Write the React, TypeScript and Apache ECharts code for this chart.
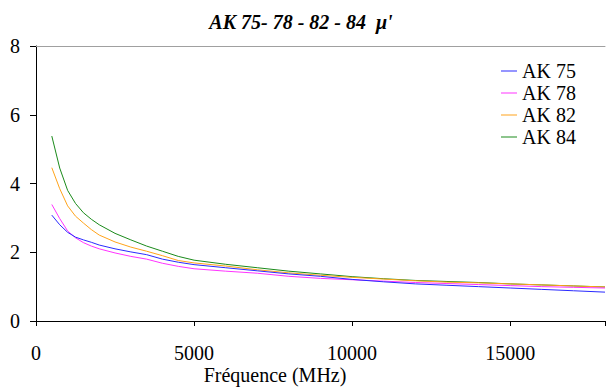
import React, { useEffect, useRef } from "react";
import * as echarts from "echarts";

const freqs = [500, 750, 1000, 1250, 1500, 1750, 2000, 2500, 3000, 3500, 4000, 4500, 5000, 6000, 7000, 8000, 9000, 10000, 11000, 12000, 13000, 14000, 15000, 16000, 17000, 18000];
const ak75 = [3.08, 2.8, 2.58, 2.44, 2.36, 2.29, 2.21, 2.1, 2.01, 1.93, 1.8, 1.71, 1.64, 1.55, 1.46, 1.37, 1.3, 1.21, 1.14, 1.08, 1.04, 1.0, 0.96, 0.92, 0.88, 0.84];
const ak78 = [3.39, 2.98, 2.62, 2.42, 2.28, 2.18, 2.1, 1.98, 1.88, 1.8, 1.68, 1.59, 1.52, 1.45, 1.39, 1.3, 1.24, 1.2, 1.16, 1.12, 1.09, 1.06, 1.03, 1.0, 0.98, 0.96];
const ak82 = [4.46, 3.85, 3.35, 3.05, 2.85, 2.66, 2.5, 2.3, 2.15, 2.03, 1.9, 1.76, 1.69, 1.6, 1.49, 1.4, 1.33, 1.27, 1.22, 1.17, 1.13, 1.11, 1.08, 1.05, 1.02, 0.99];
const ak84 = [5.38, 4.45, 3.8, 3.42, 3.15, 2.96, 2.8, 2.55, 2.36, 2.18, 2.03, 1.88, 1.77, 1.65, 1.55, 1.45, 1.37, 1.29, 1.23, 1.18, 1.15, 1.12, 1.08, 1.05, 1.02, 0.99];

const seriesNames = ["AK 75", "AK 78", "AK 82", "AK 84"];
const seriesValues = [ak75, ak78, ak82, ak84];
const colors = ["#2a2aff", "#ff33ff", "#ffa31a", "#1a8a1a"];

const FONT = "Liberation Serif";

export default function App() {
  const ref = useRef<HTMLDivElement>(null);
  useEffect(() => {
    if (!ref.current) return;
    const chart = echarts.init(ref.current, null, { renderer: "svg" });
    chart.setOption({
      animation: false,
      backgroundColor: "#ffffff",
      title: {
        text: "AK 75- 78 - 82 - 84  \u03bc'",
        left: 296,
        top: 7,
        textAlign: "center",
        textStyle: { fontFamily: FONT, fontSize: 20, fontWeight: "bold", fontStyle: "italic", color: "#000" },
      },
      legend: {
        orient: "vertical",
        left: 496,
        top: 56,
        itemWidth: 16,
        itemHeight: 1,
        itemGap: 2,
        icon: "rect",
        data: seriesNames.map((n, i) => ({ name: n, itemStyle: { color: colors[i] } })),
        textStyle: { fontFamily: FONT, fontSize: 20, color: "#000" },
      },
      graphic: [
        {
          type: "text",
          x: 275,
          y: 375,
          style: {
            text: "Fr\u00e9quence (MHz)",
            fontFamily: FONT,
            fontSize: 20,
            fill: "#000",
            textAlign: "center",
            textVerticalAlign: "middle",
          },
        },
      ],
      grid: { left: 36, top: 46, right: -4, bottom: 68 },
      xAxis: [
        {
          type: "value",
          min: 0,
          max: 18000,
          interval: 5000,
          axisLine: { show: true, lineStyle: { color: "#000", width: 1 } },
          axisTick: { show: true, length: 5, lineStyle: { color: "#000" } },
          axisLabel: {
            margin: 22,
            fontFamily: FONT,
            fontSize: 20,
            color: "#000",
            formatter: (v: number) => (v % 5000 === 0 ? String(v) : ""),
          },
          splitLine: { show: false },
        },
        {
          type: "value",
          position: "top",
          min: 0,
          max: 18000,
          axisLine: { show: true, lineStyle: { color: "#a0a0a0", width: 1 } },
          axisTick: { show: false },
          axisLabel: { show: false },
          splitLine: { show: false },
        },
      ],
      yAxis: {
        type: "value",
        min: 0,
        max: 8,
        interval: 2,
        axisLine: { show: true, onZero: false, lineStyle: { color: "#000", width: 1 } },
        axisTick: { show: true, length: 6, lineStyle: { color: "#000" } },
        axisLabel: { margin: 16, fontFamily: FONT, fontSize: 20, color: "#000" },
        splitLine: { show: false },
      },
      series: seriesNames.map((name, i) => ({
        name,
        type: "line",
        xAxisIndex: 0,
        data: freqs.map((f, j) => [f, seriesValues[i][j]]),
        showSymbol: false,
        symbol: "none",
        lineStyle: { color: colors[i], width: 1 },
        itemStyle: { color: colors[i] },
        z: 10 - i,
      })),
    });
    return () => chart.dispose();
  }, []);
  return <div ref={ref} style={{ width: 608, height: 389, position: "absolute", left: 0, top: 0 }} />;
}
